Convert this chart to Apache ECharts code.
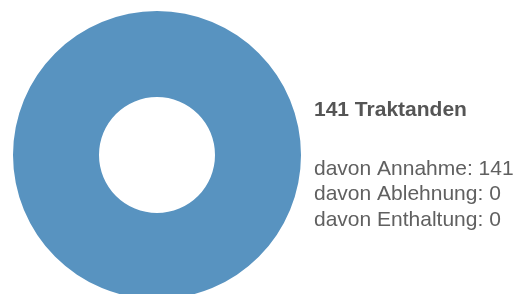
<!DOCTYPE html>
<html><head><meta charset="utf-8">
<script src="https://cdn.jsdelivr.net/npm/echarts@6/dist/echarts.min.js"></script>
<style>html,body{margin:0;padding:0;background:#fff}#c{width:523px;height:294px}</style>
</head><body><div id="c"></div>
<script>
const categories = ['Annahme', 'Ablehnung', 'Enthaltung'];
const values = [141, 0, 0];
const colors = ['#5893c0', '#d9534f', '#aaaaaa'];
const total = values.reduce((a, b) => a + b, 0);
const titleText = total + ' Traktanden';
const lines = categories.map((c, i) => 'davon ' + c + ': ' + values[i]);

const chart = echarts.init(document.getElementById('c'));
chart.setOption({
  animation: false,
  series: [{
    type: 'pie',
    center: [157, 155],
    radius: [58, 144],
    label: { show: false },
    labelLine: { show: false },
    emphasis: { disabled: true },
    data: categories.map((c, i) => ({ name: c, value: values[i], itemStyle: { color: colors[i] } }))
  }],
  graphic: [
    { type: 'text', left: 314, top: 100, style: { text: titleText, font: 'bold 21px Arial, "Liberation Sans"', fill: '#555555' } },
    { type: 'text', left: 314, top: 156, style: { text: lines.join('\n'), font: '21px Arial, "Liberation Sans"', lineHeight: 25.7, fill: '#606060' } }
  ]
});
</script></body></html>
